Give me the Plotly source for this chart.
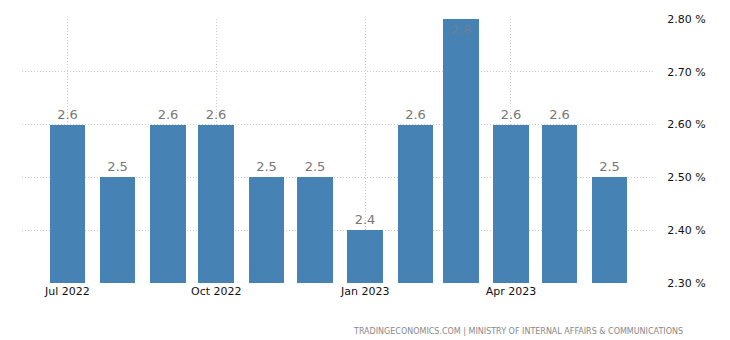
import plotly.graph_objects as go

months = ["2022-07-01", "2022-08-01", "2022-09-01", "2022-10-01", "2022-11-01", "2022-12-01",
          "2023-01-01", "2023-02-01", "2023-03-01", "2023-04-01", "2023-05-01", "2023-06-01"]
values = [2.6, 2.5, 2.6, 2.6, 2.5, 2.5, 2.4, 2.6, 2.8, 2.6, 2.6, 2.5]
source = "TRADINGECONOMICS.COM | MINISTRY OF INTERNAL AFFAIRS & COMMUNICATIONS"

ymax = 2.8
positions = ["inside" if v >= ymax else "outside" for v in values]
tcolors = ["#6a7f96" if v >= ymax else "#777777" for v in values]

fig = go.Figure(go.Bar(
    x=months, y=values,
    width=[22 * 86400000] * len(values),
    marker=dict(color="#4682B4", line=dict(width=0)),
    text=[f"{v:.1f}" for v in values],
    textposition=positions,
    insidetextanchor="end",
    textfont=dict(color=tcolors, size=13, family="DejaVu Sans"),
    cliponaxis=False,
    hoverinfo="skip",
))

fig.update_layout(
    width=730, height=340,
    margin=dict(l=22, r=75, t=19, b=57),
    plot_bgcolor="white", paper_bgcolor="white",
    showlegend=False,
    font=dict(family="DejaVu Sans", size=11, color="#111"),
    bargap=0,
)
fig.update_xaxes(
    type="date",
    range=["2022-06-03", "2023-06-29"],
    tick0="2022-07-01", dtick="M3", tickformat="%b %Y",
    showgrid=True, gridcolor="#cccccc", griddash="1px,2px", gridwidth=1,
    ticks="", showline=False, zeroline=False,
    tickfont=dict(size=11, color="#111"),
)
fig.update_yaxes(
    side="right",
    range=[2.3, 2.8],
    tick0=2.3, dtick=0.1, tickformat=".2f", ticksuffix=" %",
    showgrid=True, gridcolor="#cccccc", griddash="1px,2px", gridwidth=1,
    ticks="outside", ticklen=9, tickcolor="rgba(0,0,0,0)",
    showline=False, zeroline=False,
    tickfont=dict(size=11, color="#111"),
)
fig.add_annotation(
    text=source, xref="paper", yref="paper", x=1.047, y=-0.16,
    xanchor="right", yanchor="top", showarrow=False,
    font=dict(size=8, color="#888", family="DejaVu Sans"),
)

fig.write_html("out.html")
